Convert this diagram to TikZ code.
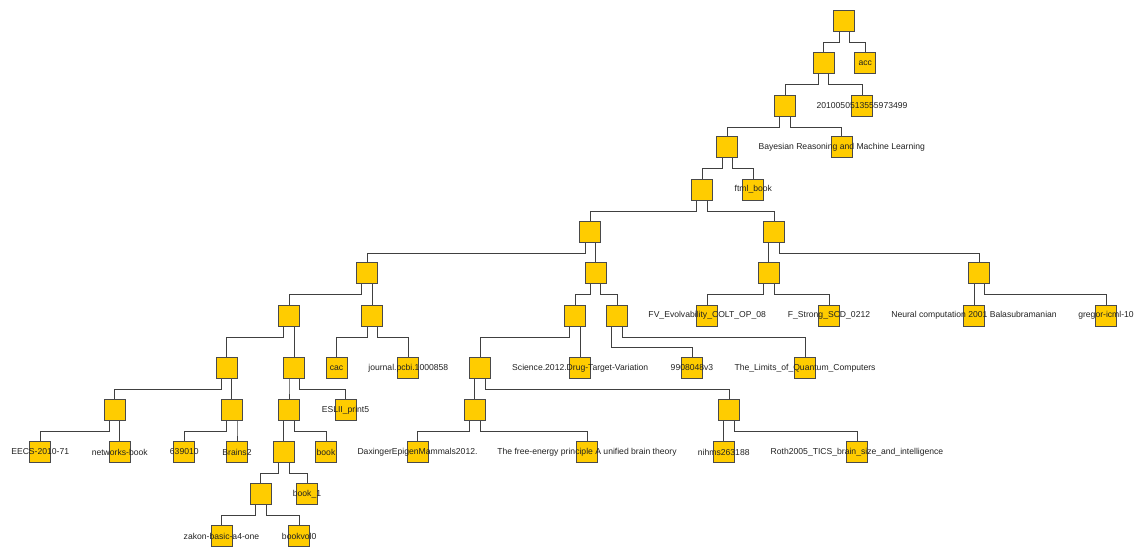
\documentclass[tikz,border=0pt]{standalone}
\usepackage{fontspec}
\setmainfont{Liberation Sans}
\definecolor{boxfill}{HTML}{FFCC00}
\definecolor{boxline}{HTML}{4A4A4A}
\definecolor{edgecol}{HTML}{404040}
\definecolor{txt}{HTML}{222222}
\tikzset{
  bx/.style={draw=boxline, fill=boxfill, line width=1pt, minimum size=21pt, inner sep=0pt},
  lbl/.style={text=txt, font=\fontsize{8.6}{10}\selectfont, inner sep=0pt},
  edge/.style={draw=edgecol, line width=0.9pt}
}
\newcommand\tedge[4]{\draw[edge] ([xshift=#3]#1.south) -- ++(0,-#4) -| (#2.north);}
\begin{document}
\begin{tikzpicture}[x=1pt,y=-1pt]
\useasboundingbox (0,0) rectangle (1145,557);
% rows
\def\ra{21}\def\rb{63}\def\rc{105.5}\def\rd{147}\def\re{189.5}\def\rf{231.5}
\def\rg{273}\def\rh{315.5}\def\ri{368}\def\rj{410}\def\rk{452}\def\rl{494}\def\rm{536}
% nodes
\node[bx] (n0) at (844.3,\ra) {};
\node[bx] (n1) at (823.5,\rb) {};
\node[bx, label={[lbl]center:acc}] (acc) at (865.3,\rb) {};
\node[bx] (n2) at (785,\rc) {};
\node[bx, label={[lbl]center:2010050513555973499}] (l2010) at (862,\rc) {};
\node[bx] (n3) at (727.3,\rd) {};
\node[bx, label={[lbl]center:Bayesian Reasoning and Machine Learning}] (bayes) at (841.7,\rd) {};
\node[bx] (n4) at (702,\re) {};
\node[bx, label={[lbl]center:ftml\_book}] (ftml) at (753.3,\re) {};
\node[bx] (n5a) at (590.3,\rf) {};
\node[bx] (n5b) at (774,\rf) {};
\node[bx] (n6a) at (367,\rg) {};
\node[bx] (n6b) at (595.55,\rg) {};
\node[bx] (n6c) at (768.75,\rg) {};
\node[bx] (n6d) at (979.3,\rg) {};
\node[bx] (n7a) at (289,\rh) {};
\node[bx] (n7b) at (372.25,\rh) {};
\node[bx] (n7c) at (575,\rh) {};
\node[bx] (n7d) at (617,\rh) {};
\node[bx, label={[lbl]center:FV\_Evolvability\_COLT\_OP\_08}] (fv) at (707.2,\rh) {};
\node[bx, label={[lbl]center:F\_Strong\_SCD\_0212}] (fstrong) at (829,\rh) {};
\node[bx, label={[lbl]center:Neural computation 2001 Balasubramanian}] (neural) at (974.05,\rh) {};
\node[bx, label={[lbl]center:gregor-icml-10}] (gregor) at (1106,\rh) {};
\node[bx] (n8a) at (226.5,\ri) {};
\node[bx] (n8b) at (294.25,\ri) {};
\node[bx, label={[lbl]center:cac}] (cac) at (336.5,\ri) {};
\node[bx, label={[lbl]center:journal.pcbi.1000858}] (journal) at (408.3,\ri) {};
\node[bx] (n8c) at (480,\ri) {};
\node[bx, label={[lbl]center:Science.2012.Drug-Target-Variation}] (science) at (580.25,\ri) {};
\node[bx, label={[lbl]center:9908048v3}] (v9908) at (692,\ri) {};
\node[bx, label={[lbl]center:The\_Limits\_of\_Quantum\_Computers}] (limits) at (805,\ri) {};
\node[bx] (n9a) at (114.5,\rj) {};
\node[bx] (n9b) at (231.75,\rj) {};
\node[bx] (n9c) at (289,\rj) {};
\node[bx, label={[lbl]center:ESLII\_print5}] (eslii) at (345.5,\rj) {};
\node[bx] (n9d) at (474.75,\rj) {};
\node[bx] (n9e) at (729,\rj) {};
\node[bx, label={[lbl]center:EECS-2010-71}] (eecs) at (40.2,\rk) {};
\node[bx, label={[lbl]center:networks-book}] (networks) at (119.75,\rk) {};
\node[bx, label={[lbl]center:639010}] (p639) at (184.3,\rk) {};
\node[bx, label={[lbl]center:Brains2}] (brains) at (237,\rk) {};
\node[bx] (n10a) at (283.75,\rk) {};
\node[bx, label={[lbl]center:book}] (book) at (326,\rk) {};
\node[bx, label={[lbl]center:DaxingerEpigenMammals2012.}] (dax) at (417.5,\rk) {};
\node[bx, label={[lbl]center:The free-energy principle A unified brain theory}] (free) at (587,\rk) {};
\node[bx, label={[lbl]center:nihms263188}] (nihms) at (723.75,\rk) {};
\node[bx, label={[lbl]center:Roth2005\_TICS\_brain\_size\_and\_intelligence}] (roth) at (857,\rk) {};
\node[bx] (n11a) at (260.7,\rl) {};
\node[bx, label={[lbl]center:book\_1}] (book1) at (307,\rl) {};
\node[bx, label={[lbl]center:zakon-basic-a4-one}] (zakon) at (221.5,\rm) {};
\node[bx, label={[lbl]center:bookvol0}] (bookvol) at (299.2,\rm) {};
% connectors
\tedge{n0}{n1}{-5.25pt}{10.5pt}
\tedge{n0}{acc}{5.25pt}{10.5pt}
\tedge{n1}{n2}{-5.25pt}{10.5pt}
\tedge{n1}{l2010}{5.25pt}{10.5pt}
\tedge{n2}{n3}{-5.25pt}{10.5pt}
\tedge{n2}{bayes}{5.25pt}{10.5pt}
\tedge{n3}{n4}{-5.25pt}{10.5pt}
\tedge{n3}{ftml}{5.25pt}{10.5pt}
\tedge{n4}{n5a}{-5.25pt}{10.5pt}
\tedge{n4}{n5b}{5.25pt}{10.5pt}
\tedge{n5a}{n6a}{-5.25pt}{10.5pt}
\tedge{n5a}{n6b}{5.25pt}{10.5pt}
\tedge{n5b}{n6c}{-5.25pt}{10.5pt}
\tedge{n5b}{n6d}{5.25pt}{10.5pt}
\tedge{n6a}{n7a}{-5.25pt}{10.5pt}
\tedge{n6a}{n7b}{5.25pt}{10.5pt}
\tedge{n6b}{n7c}{-5.25pt}{10.5pt}
\tedge{n6b}{n7d}{5.25pt}{10.5pt}
\tedge{n6c}{fv}{-5.25pt}{10.5pt}
\tedge{n6c}{fstrong}{5.25pt}{10.5pt}
\tedge{n6d}{neural}{-5.25pt}{10.5pt}
\tedge{n6d}{gregor}{5.25pt}{10.5pt}
\tedge{n7a}{n8a}{-5.25pt}{10.5pt}
\tedge{n7a}{n8b}{5.25pt}{10.5pt}
\tedge{n7b}{cac}{-5.25pt}{10.5pt}
\tedge{n7b}{journal}{5.25pt}{10.5pt}
\tedge{n7c}{n8c}{-5.25pt}{10.5pt}
\tedge{n7c}{science}{5.25pt}{10.5pt}
\tedge{n7d}{v9908}{-5.25pt}{21pt}
\tedge{n7d}{limits}{5.25pt}{10.5pt}
\tedge{n8a}{n9a}{-5.25pt}{10.5pt}
\tedge{n8a}{n9b}{5.25pt}{10.5pt}
\tedge{n8b}{n9c}{-5.25pt}{10.5pt}
\tedge{n8b}{eslii}{5.25pt}{10.5pt}
\tedge{n8c}{n9d}{-5.25pt}{10.5pt}
\tedge{n8c}{n9e}{5.25pt}{10.5pt}
\tedge{n9a}{eecs}{-5.25pt}{10.5pt}
\tedge{n9a}{networks}{5.25pt}{10.5pt}
\tedge{n9b}{p639}{-5.25pt}{10.5pt}
\tedge{n9b}{brains}{5.25pt}{10.5pt}
\tedge{n9c}{n10a}{-5.25pt}{10.5pt}
\tedge{n9c}{book}{5.25pt}{10.5pt}
\tedge{n9d}{dax}{-5.25pt}{10.5pt}
\tedge{n9d}{free}{5.25pt}{10.5pt}
\tedge{n9e}{nihms}{-5.25pt}{10.5pt}
\tedge{n9e}{roth}{5.25pt}{10.5pt}
\tedge{n10a}{n11a}{-5.25pt}{10.5pt}
\tedge{n10a}{book1}{5.25pt}{10.5pt}
\tedge{n11a}{zakon}{-5.25pt}{10.5pt}
\tedge{n11a}{bookvol}{5.25pt}{10.5pt}
\end{tikzpicture}
\end{document}
